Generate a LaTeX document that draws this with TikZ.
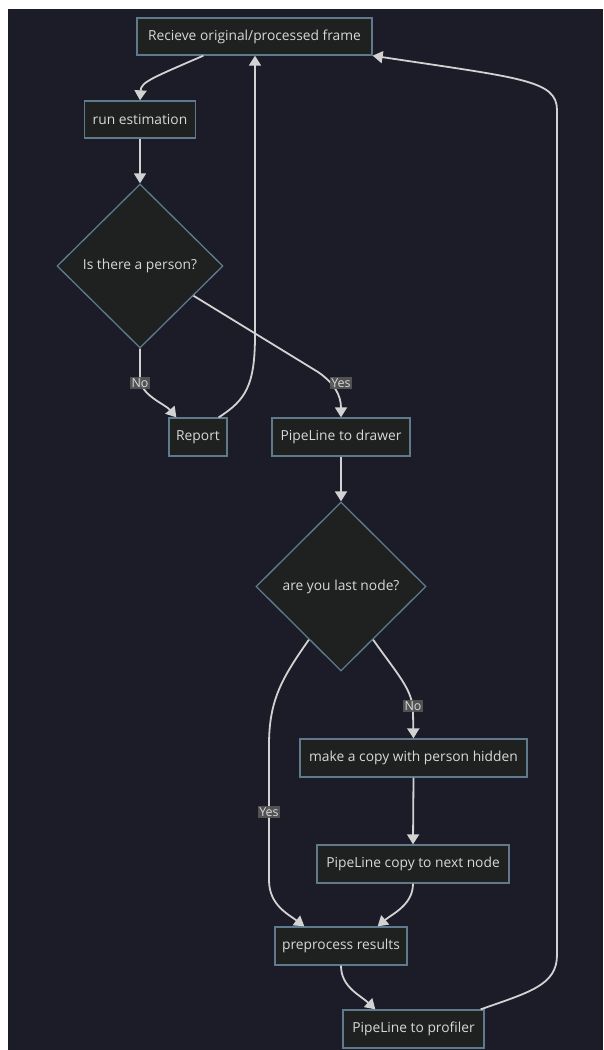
\documentclass[tikz,border=0pt]{standalone}
\usepackage{fontspec}
\setmainfont{Open Sans}
\usetikzlibrary{shapes.geometric,arrows.meta,calc}
\definecolor{bgc}{HTML}{1C1C28}
\definecolor{nodefill}{HTML}{1F2020}
\definecolor{nodeline}{HTML}{5E7A8C}
\definecolor{edgec}{HTML}{D2D2D2}
\definecolor{txtc}{HTML}{D8D8D8}
\definecolor{lblbg}{HTML}{585858}
\tikzset{
  boxnode/.style={draw=nodeline, fill=nodefill, line width=1.3pt, text=txtc, font=\fontsize{13.8}{15}\selectfont, inner sep=0pt, anchor=center},
  decnode/.style={diamond, draw=nodeline, fill=nodefill, line width=1.3pt, text=txtc, font=\fontsize{13.8}{15}\selectfont, inner sep=0pt, aspect=1},
  arr/.style={draw=edgec, line width=1.8pt, -{Triangle[width=12pt,length=10pt]}},
  lbl/.style={fill=lblbg, text=txtc, font=\fontsize{12.5}{13}\selectfont, inner sep=1.2pt, fill opacity=0.9, text opacity=1}
}
\begin{document}
\begin{tikzpicture}[x=1pt,y=-1pt]
\fill[white] (0,0) rectangle (603,1050);
\fill[bgc] (8,9) rectangle (603,1050);
\useasboundingbox (0,0) rectangle (603,1050);

\node[boxnode, minimum width=235pt, minimum height=37pt] (recv) at (254.5,36.5) {Recieve original/processed frame};
\node[boxnode, minimum width=111pt, minimum height=37pt] (run) at (140,119.5) {run estimation};
\node[decnode, minimum width=166pt, minimum height=164pt] (d1) at (140,266) {Is there a person?};
\node[boxnode, minimum width=58pt, minimum height=38pt] (rep) at (198,437) {Report};
\node[boxnode, minimum width=138pt, minimum height=38pt] (draw) at (341,437) {PipeLine to drawer};
\node[decnode, minimum width=170pt, minimum height=169pt] (d2) at (341,586.5) {are you last node?};
\node[boxnode, minimum width=227pt, minimum height=38pt] (copy) at (413.5,758) {make a copy with person hidden};
\node[boxnode, minimum width=192pt, minimum height=38pt] (pcopy) at (413,864) {PipeLine copy to next node};
\node[boxnode, minimum width=132pt, minimum height=38pt] (pre) at (341,946) {preprocess results};
\node[boxnode, minimum width=141pt, minimum height=38pt] (prof) at (413.5,1029) {PipeLine to profiler};

% recv -> run
\draw[arr] ($(recv.south west)+(67,0)$) .. controls (152,78) and (141,82) .. (run.north);
% run -> d1
\draw[arr] (run.south) -- (d1.north);
% d1 -> report (No)
\draw[arr] (d1.south) -- (140,378) .. controls (140,395) and (165,404) .. ($(rep.north west)+(8,0)$);
\node[lbl] (lno1) at (140,383) {No};
% d1 -> drawer (Yes)
\draw[arr] ($(d1.south east)!0.28!(d1.east)$) -- (318,372) .. controls (334,383) and (341,395) .. (draw.north);
\node[lbl] (lyes1) at (341,383) {Yes};
% report -> recv
\draw[arr] ($(rep.north east)+(-9,0)$) .. controls (246,400) and (255,385) .. (255,335) -- (recv.south -| 255,0);
% drawer -> d2
\draw[arr] (draw.south) -- (d2.north);
% d2 -> copy (No)
\draw[arr] ($(d2.south east)!0.25!(d2.south)$) .. controls (398,675) and (413,690) .. (413,712) -- (copy.north);
\node[lbl] (lno2) at (413,706) {No};
% d2 -> pre (Yes)
\draw[arr] ($(d2.south west)!0.25!(d2.south)$) .. controls (282,678) and (269,700) .. (269,745) -- (269,880) .. controls (269,905) and (288,914) .. ($(pre.north west)+(30,0)$);
\node[lbl] (lyes2) at (269,812) {Yes};
% copy -> pcopy
\draw[arr] (copy.south) -- (pcopy.north);
% pcopy -> pre
\draw[arr] (pcopy.south) .. controls (413,905) and (392,914) .. ($(pre.north east)+(-30,0)$);
% pre -> prof
\draw[arr] (pre.south) .. controls (341,987) and (360,995) .. ($(prof.north west)+(33,0)$);
% prof -> recv
\draw[arr] ($(prof.north east)+(-4,0)$) .. controls (530,992) and (557,985) .. (557,955) -- (557,110) .. controls (557,80) and (520,78) .. (recv.south east);
\end{tikzpicture}
\end{document}
